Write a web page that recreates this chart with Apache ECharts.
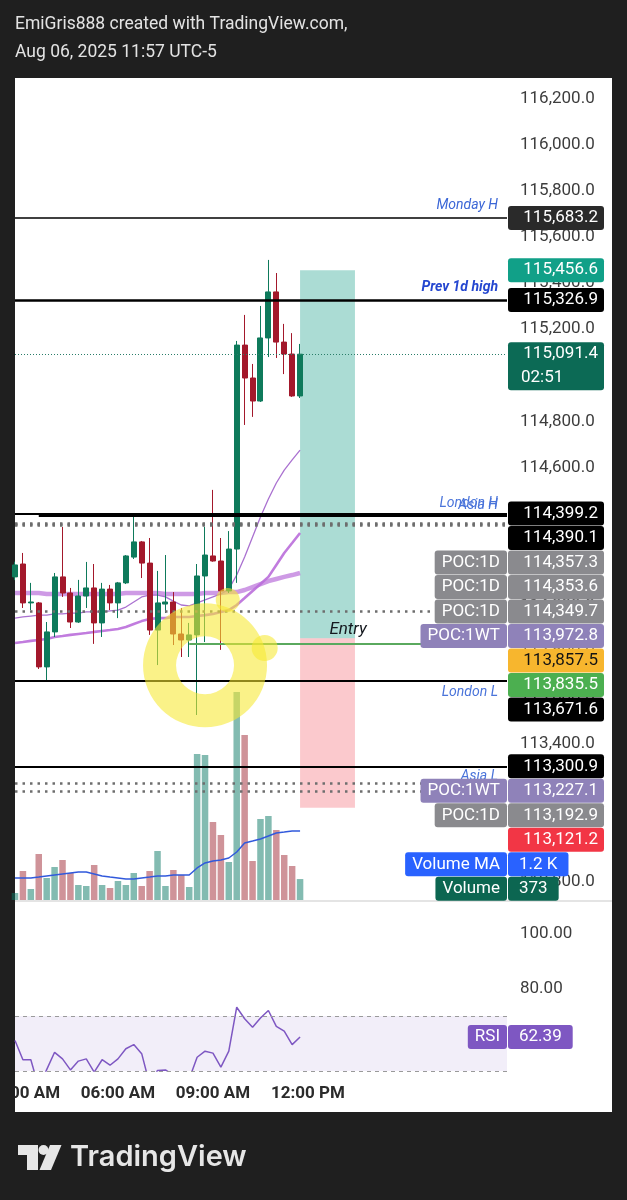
<!DOCTYPE html>
<html><head><meta charset="utf-8">
<script src="https://cdn.jsdelivr.net/npm/echarts@6/dist/echarts.min.js"></script>
<style>html,body{margin:0;padding:0;background:#1f1f1f;}#c{width:627px;height:1200px;}</style>
</head><body><div id="c"></div>
<script>
// ---------------- DATA ----------------
const candleTimes = ['02:45','03:00','03:15','03:30','03:45','04:00','04:15','04:30','04:45','05:00','05:15','05:30','05:45','06:00','06:15','06:30','06:45','07:00','07:15','07:30','07:45','08:00','08:15','08:30','08:45','09:00','09:15','09:30','09:45','10:00','10:15','10:30','10:45','11:00','11:15','11:30','11:45'];
const opens  = [114124,114180,114011,114011,113733,113885,114124,114054,113928,114041,114076,113924,114071,114011,114098,114210,114276,114184,113893,114006,114015,113876,113850,113872,114128,114215,114193,114063,114245,115131,114988,114888,115162,115362,115144,115092,114910];
const closes = [114176,114011,114015,113733,113885,114124,114054,113928,114041,114076,113924,114071,114011,114098,114215,114276,114184,113893,114011,114015,113876,113850,113872,114128,114219,114193,114063,114245,115131,114988,114888,115162,115362,115144,115092,114910,115091.4];
const lows   = [114110,113989,113980,113724,113676,113863,114037,113902,113924,113989,113833,113863,113980,113945,114093,114202,114119,113872,113741,113967,113828,113776,113776,113524,113841,114190,113807,114054,114098,114784,114819,114884,115079,115075,115005,114906,114901];
const highs  = [114190,114228,114098,114015,113928,114141,114341,114076,114111,114189,114180,114098,114089,114102,114219,114393,114280,114293,114150,114219,114058,113989,113924,114180,114341,114502,114293,114323,115149,115262,115049,115301,115501,115444,115223,115183,115136];
const maFast = [113945,113950,113954,113958,113958,113963,113963,113967,113967,113972,113972,113972,113976,113980,113993,114015,114037,114045,114045,114037,114019,114002,113998,114011,114024,114037,114050,114071,114132,114210,114297,114384,114462,114532,114588,114632,114675];
const maMid  = [113837,113841,113846,113850,113854,113863,113867,113872,113876,113880,113885,113889,113893,113898,113906,113919,113932,113941,113945,113945,113950,113950,113950,113954,113958,113963,113972,113980,114002,114032,114063,114093,114124,114176,114228,114271,114315];
const maSlow = [114054,114054,114054,114054,114050,114050,114050,114050,114050,114050,114050,114050,114050,114050,114054,114054,114054,114054,114054,114050,114050,114050,114050,114050,114054,114054,114054,114058,114058,114067,114080,114093,114106,114115,114124,114132,114141];
const volumes = [125,516,196,819,392,587,712,481,267,249,623,267,214,338,267,481,249,516,872,249,534,445,231,2599,2581,1388,1157,676,3702,2937,694,1442,1495,1246,801,605,373];
const volumeMA = [392,392,392,409,427,445,463,481,498,498,463,427,409,392,374,374,392,409,427,427,445,445,445,570,659,694,712,748,854,1015,1050,1086,1139,1193,1210,1228,1228];
const rsi = [61.1,54.1,54.1,44.0,50.5,56.8,54.4,50.4,53.6,54.4,49.6,54.1,52.1,54.4,58.1,59.6,56.3,45.2,50.2,50.4,48.5,46.5,47.1,55.0,57.2,56.5,51.4,57.2,73.2,69.0,65.9,69.3,72.0,66.2,64.5,59.6,62.39];
const rsiBands = [70, 50];

const levelNames  = ['Monday H','Prev 1d high','London H','Asia H','London L','Asia L'];
const levelPrices = [115683.2,115326.9,114399.2,114390.1,113671.6,113300.9];
const levelStarts = [null,null,null,'03:30',null,null];
const pocNames  = ['POC:1D','POC:1D','POC:1D','POC:1WT','POC:1WT','POC:1D'];
const pocPrices = [114357.3,114353.6,114349.7,113972.8,113227.1,113192.9];
const positionTimes = ['11:45','13:29'];
const positionTarget = 115456.6, positionEntry = 113857.5, positionStop = 113121.2;
const entryLineName = 'Entry', entryLinePrice = 113835.5, entryLineStart = '08:15';
const lastPrice = 115091.4, countdown = '02:51';
const timeTicks = ['03:00','06:00','09:00','12:00'];
const priceTickMin = 112600, priceTickMax = 116400, priceTickStep = 200;
const rsiTicks = [80, 100];
const highlightCenter = ['08:45', 113740];
const highlightBlobs = [['09:28', 114024], ['10:38', 113815]];
const headerLines = ['EmiGris888 created with TradingView.com,', 'Aug 06, 2025 11:57 UTC-5'];

// ---------------- HELPERS ----------------
const toMin = s => { const p = s.split(':').map(Number); return p[0]*60 + p[1]; };
const tx = candleTimes.map(toMin);
const fmtPrice = v => v.toLocaleString('en-US',{minimumFractionDigits:1,maximumFractionDigits:1});
const fmtTime = v => { const h = Math.floor(v/60), m = v%60; const h12 = h%12===0?12:h%12; return String(h12).padStart(2,'0')+':'+String(m).padStart(2,'0')+(h<12?' AM':' PM'); };
const X_MIN = 165, X_MAX = 1097;
const UP = '#0e7a5b', DOWN = '#a3182b';
const FONT = 'Roboto';

const candleData = tx.map((t,i)=>[t, opens[i], closes[i], lows[i], highs[i]]);
const isUp = i => closes[i] >= opens[i];

const chart = echarts.init(document.getElementById('c'), null, {width:627, height:1200});

const lineAt = (p, style, start) => start == null
  ? {yAxis: p, lineStyle: style}
  : [{coord:[toMin(start), p], lineStyle: style}, {coord:[X_MAX, p]}];

const levelWidths = [1.6, 2.6, 2.2, 2.2, 2, 2];
const levelLines = levelPrices.map((p,i)=>lineAt(p, {color:'#000', width:levelWidths[i], type:'solid'}, levelStarts[i]));
const pocLines = pocPrices.map(p=>lineAt(p, {color:'#6e6e6e', width:2.5, type:[2.5,5]}));
const entryLine = lineAt(entryLinePrice, {color:'#5aa95e', width:2, type:'solid'}, entryLineStart);
const lastLine = lineAt(lastPrice, {color:'#2a7d69', width:1, type:[1,2]});

const axisLabelBase = {color:'#3d3d3d', fontSize:17, fontFamily:FONT};
const gridBase = {left:15, right:120, containLabel:false, outerBoundsMode:'none'};

const option = {
  backgroundColor:'#1f1f1f',
  animation:false,
  grid:[
    Object.assign({top:52.96, height:874.76}, gridBase),
    Object.assign({top:600, height:300}, gridBase),
    Object.assign({top:901, height:170}, gridBase)
  ],
  xAxis:[
    {gridIndex:0, type:'value', min:X_MIN, max:X_MAX, show:false},
    {gridIndex:1, type:'value', min:X_MIN, max:X_MAX, show:false},
    {gridIndex:2, type:'value', min:X_MIN, max:X_MAX,
      axisLine:{show:false}, axisTick:{show:false}, splitLine:{show:false},
      axisLabel:{customValues:timeTicks.map(toMin), formatter:fmtTime, color:'#2b2b2b', fontSize:17, fontWeight:'bold', fontFamily:FONT, margin:14, hideOverlap:false}}
  ],
  yAxis:[
    {gridIndex:0, type:'value', position:'right', min:priceTickMin, max:priceTickMax, interval:priceTickStep,
      axisLine:{show:false}, axisTick:{show:false}, splitLine:{show:false},
      axisLabel:Object.assign({margin:13, formatter:v=>(v<priceTickMin+100||v>priceTickMax-150)?'':fmtPrice(v)}, axisLabelBase)},
    {gridIndex:1, type:'value', min:0, max:5340, show:false},
    {gridIndex:2, type:'value', position:'right', min:50, max:111.82,
      axisLine:{show:false}, axisTick:{show:false}, splitLine:{show:false},
      axisLabel:Object.assign({margin:13, customValues:rsiTicks, formatter:v=>v.toFixed(2)}, axisLabelBase)}
  ],
  series:[
    {name:'position', type:'line', xAxisIndex:0, yAxisIndex:0, data:[], z:1, silent:true,
      markArea:{silent:true, data:[
        [{coord:[toMin(positionTimes[0]), positionTarget], itemStyle:{color:'rgba(8,153,129,0.34)'}}, {coord:[toMin(positionTimes[1]), positionEntry]}],
        [{coord:[toMin(positionTimes[0]), positionEntry], itemStyle:{color:'rgba(242,54,69,0.27)'}}, {coord:[toMin(positionTimes[1]), positionStop]}]
      ]}},
    {name:'volume', type:'bar', xAxisIndex:1, yAxisIndex:1, barWidth:6.5, z:2,
      data: tx.map((t,i)=>({value:[t, volumes[i]], itemStyle:{color: isUp(i)?'rgba(8,120,100,0.5)':'rgba(160,40,52,0.5)'}}))},
    {name:'volMA', type:'line', xAxisIndex:1, yAxisIndex:1, showSymbol:false, z:3,
      data: tx.map((t,i)=>[t, volumeMA[i]]), lineStyle:{color:'#3159dc', width:1.5}},
    {name:'maSlow', type:'line', xAxisIndex:0, yAxisIndex:0, showSymbol:false, z:3,
      data: tx.map((t,i)=>[t, maSlow[i]]), lineStyle:{color:'rgba(190,120,220,0.75)', width:4.5}},
    {name:'maMid', type:'line', xAxisIndex:0, yAxisIndex:0, showSymbol:false, z:3,
      data: tx.map((t,i)=>[t, maMid[i]]), lineStyle:{color:'rgba(186,110,218,0.9)', width:2.6}},
    {name:'maFast', type:'line', xAxisIndex:0, yAxisIndex:0, showSymbol:false, z:3,
      data: tx.map((t,i)=>[t, maFast[i]]), lineStyle:{color:'rgba(165,105,205,0.95)', width:1.3}},
    {name:'candles', type:'candlestick', xAxisIndex:0, yAxisIndex:0, barWidth:5.5, z:4,
      encode:{x:0, y:[1,2,3,4]}, data:candleData,
      itemStyle:{color:UP, color0:DOWN, borderColor:UP, borderColor0:DOWN, borderWidth:1}},
    {name:'levels', type:'line', xAxisIndex:0, yAxisIndex:0, data:[], z:5, silent:true,
      markLine:{silent:true, symbol:['none','none'], label:{show:false}, animation:false,
        data: [].concat(pocLines, [lastLine, entryLine], levelLines)}},
    {name:'rsi', type:'line', xAxisIndex:2, yAxisIndex:2, showSymbol:false, z:3,
      data: tx.map((t,i)=>[t, rsi[i]]), lineStyle:{color:'#7e57c2', width:1.5},
      markArea:{silent:true, data:[[{yAxis:rsiBands[1], itemStyle:{color:'rgba(126,87,194,0.1)'}}, {yAxis:rsiBands[0]}]]},
      markLine:{silent:true, symbol:['none','none'], label:{show:false},
        data: rsiBands.map(v=>({yAxis:v, lineStyle:{color:'#9a9a9a', width:1, type:[4,4]}}))}}
  ]
};
chart.setOption(option);

// ---------------- OVERLAYS ----------------
const py = p => chart.convertToPixel({yAxisIndex:0}, p);
const px = t => chart.convertToPixel({xAxisIndex:0}, t);
const vy = v => chart.convertToPixel({yAxisIndex:1}, v);
const ry = v => chart.convertToPixel({yAxisIndex:2}, v);

const G = [];
const text = (s, x, y, o) => ({type:'text', z:(o&&o.z)||60, silent:true, style:Object.assign({text:s, x:x, y:y, fill:'#fff', font:'17px '+FONT, align:'left', verticalAlign:'middle', textAlign:'left', textVerticalAlign:'middle'}, o && o.style)});

// white panel
G.push({type:'rect', z:-100, silent:true, shape:{x:15, y:78, width:597, height:1034}, style:{fill:'#ffffff'}});
// pane separator
G.push({type:'rect', z:40, silent:true, shape:{x:15, y:900.5, width:597, height:1}, style:{fill:'#c9c9c9'}});

// header
G.push(text(headerLines[0], 15, 25, {z:60, style:{fill:'#e3e3e3', font:'17.5px '+FONT}}));
G.push(text(headerLines[1], 15, 53, {z:60, style:{fill:'#e3e3e3', font:'17.5px '+FONT}}));

// level labels
const LBL_X = 498;
const levelLabelStyle = [
  {font:'italic 14px '+FONT, fill:'#3b66d6', dy:-12},
  {font:'italic bold 14px '+FONT, fill:'#2547d0', dy:-12},
  {font:'italic 14px '+FONT, fill:'#4a74da', dy:-10.5},
  {font:'italic 14px '+FONT, fill:'#4a74da', dy:-10.5},
  {font:'italic 14px '+FONT, fill:'#4a74da', dy:11},
  {font:'italic 14px '+FONT, fill:'#4a74da', dy:10}
];
levelNames.forEach((n,i)=>{
  const s = levelLabelStyle[i];
  G.push(text(n, LBL_X, py(levelPrices[i]) + s.dy, {z:55, style:{font:s.font, fill:s.fill, align:'right', textAlign:'right'}}));
});
// entry label
const entryMid = (px(toMin(entryLineStart)) + px(X_MAX)) / 2;
G.push(text(entryLineName, entryMid, py(entryLinePrice) - 14, {z:55, style:{font:'italic 17px '+FONT, fill:'#15191f', align:'center', textAlign:'center'}}));

// yellow hand-drawn highlight
const HL = 'rgba(246,232,50,0.58)';
const hc = [px(toMin(highlightCenter[0])), py(highlightCenter[1])];
G.push({type:'ring', z:50, silent:true, shape:{cx:hc[0], cy:hc[1], r:62, r0:29}, style:{fill:HL}});
const blobR = [12, 13];
highlightBlobs.forEach((b,i)=>{
  G.push({type:'circle', z:50, silent:true, shape:{cx:px(toMin(b[0])), cy:py(b[1]), r:blobR[i]}, style:{fill:HL}});
});

// price tags (stacked like the TradingView price scale)
const GRAY = '#8a8a8e', LAV = '#8f82b9';
const tags = [];
const levelTagBg = ['#2a2a2a','#000','#000','#000','#000','#000'];
levelPrices.forEach((p,i)=>tags.push({y:py(p), text:fmtPrice(p), bg:levelTagBg[i]}));
pocPrices.forEach((p,i)=>tags.push({y:py(p), text:fmtPrice(p), bg:pocNames[i]==='POC:1D'?GRAY:LAV, left:pocNames[i]}));
tags.push({y:py(positionTarget), text:fmtPrice(positionTarget), bg:'#11a088'});
tags.push({y:py(positionEntry), text:fmtPrice(positionEntry), bg:'#f7b62e', fg:'#141414'});
tags.push({y:py(entryLinePrice), text:fmtPrice(entryLinePrice), bg:'#4caf50'});
tags.push({y:py(positionStop), text:fmtPrice(positionStop), bg:'#f23645'});
tags.push({y:py(lastPrice), text:fmtPrice(lastPrice), sub:countdown, h:48, bg:'#0c6a55'});
const lastIdx = volumes.length - 1;
tags.push({y:vy(volumeMA[lastIdx]), text:(volumeMA[lastIdx]/1000).toFixed(1)+' K', bg:'#2962ff', left:'Volume MA', narrow:true});
tags.push({y:vy(volumes[lastIdx]), text:String(volumes[lastIdx]), bg:'#0c6651', left:'Volume', narrow:true});
tags.sort((a,b)=>a.y-b.y);
let prevBottom = -1e9;
tags.forEach(t=>{
  const h = t.h || 24;
  const top = Math.max(t.y - 12, prevBottom + 0.5);
  prevBottom = top + h;
  t.top = top;
});
const drawTag = t => {
  const cy = t.top + 12;
  if (t.narrow) {
    G.push(text(t.text, 508, cy, {z:100, style:{fill:t.fg||'#fff', backgroundColor:t.bg, padding:[4,11,4,11], borderRadius:3, lineHeight:16}}));
  } else {
    G.push({type:'rect', z:100, silent:true, shape:{x:508, y:t.top, width:96, height:t.h||24, r:3}, style:{fill:t.bg}});
    G.push(text(t.text, 598, cy, {z:101, style:{fill:t.fg||'#fff', align:'right', textAlign:'right'}}));
    if (t.sub) G.push(text(t.sub, 521, cy + 24, {z:101, style:{fill:'#fff'}}));
  }
  if (t.left) {
    G.push(text(t.left, 507, cy, {z:100, style:{fill:'#fff', align:'right', textAlign:'right', backgroundColor:t.bg, padding:[4,7,4,7], borderRadius:3, lineHeight:16}}));
  }
};
tags.forEach(drawTag);

// RSI tag
const rsiLast = rsi[rsi.length-1];
const rsiY = ry(rsiLast);
G.push(text('RSI', 507, rsiY, {z:100, style:{backgroundColor:'#7e57c2', padding:[4,7,4,7], borderRadius:3, lineHeight:16, align:'right', textAlign:'right'}}));
G.push(text(rsiLast.toFixed(2), 508, rsiY, {z:100, style:{backgroundColor:'#7e57c2', padding:[4,11,4,11], borderRadius:3, lineHeight:16}}));

// left dark strip cover (clips the first time label)
G.push({type:'rect', z:200, silent:true, shape:{x:0, y:1072, width:15, height:40}, style:{fill:'#1f1f1f'}});

// footer logo
const LOGO = '#e6e6e6';
G.push({type:'polygon', z:60, silent:true, shape:{points:[[18,1145],[38,1145],[38,1170],[27,1170],[27,1155],[18,1155]]}, style:{fill:LOGO}});
G.push({type:'circle', z:60, silent:true, shape:{cx:43.5, cy:1150, r:5}, style:{fill:LOGO}});
G.push({type:'polygon', z:60, silent:true, shape:{points:[[50,1145],[61.5,1145],[51,1170],[39.5,1170]]}, style:{fill:LOGO}});
G.push(text('TradingView', 70, 1157, {z:60, style:{fill:LOGO, font:'600 29px Inter'}}));

chart.setOption({graphic:{elements:G}});
</script></body></html>
